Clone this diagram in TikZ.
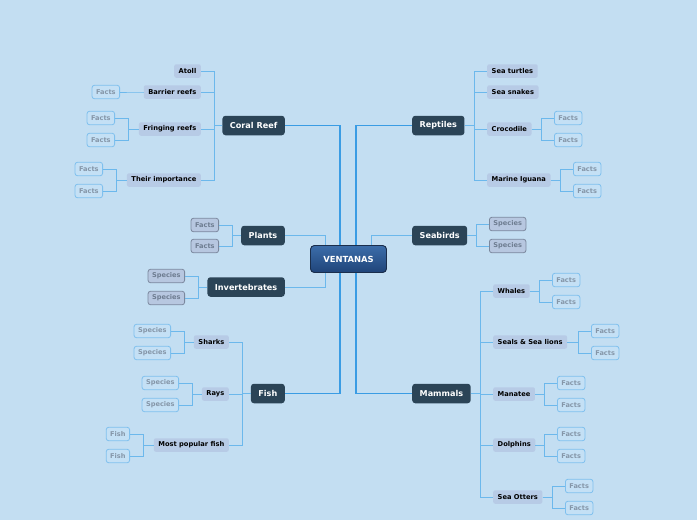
\documentclass[tikz,border=0pt]{standalone}
\usepackage{fontspec}
\setmainfont{DejaVu Sans}
\definecolor{bg}{HTML}{C3DEF2}
\definecolor{maindark}{HTML}{2B4457}
\definecolor{subfill}{HTML}{B7CBE6}
\definecolor{factfill}{HTML}{C4E0F5}
\definecolor{factborder}{HTML}{7FC0EE}
\definecolor{facttext}{HTML}{8596A8}
\definecolor{gfill}{HTML}{B7C7E0}
\definecolor{gborder}{HTML}{7B889E}
\definecolor{gtext}{HTML}{6E7D91}
\definecolor{linecol}{HTML}{6CB8EC}
\definecolor{mainline}{HTML}{3A9CE4}
\definecolor{roottop}{HTML}{3C6DAA}
\definecolor{rootbot}{HTML}{1F4479}
\definecolor{rootborder}{HTML}{1A2E4C}
\begin{document}
\begin{tikzpicture}[x=1pt,y=-1pt,
  root/.style={draw=rootborder, line width=0.8pt, rounded corners=4pt, top color=roottop, bottom color=rootbot, text=white, font=\fontsize{8.4}{10}\selectfont\bfseries, minimum height=27pt, minimum width=76pt, inner ysep=0pt},
  mainnode/.style={fill=maindark, rounded corners=3pt, text=white, font=\fontsize{8.1}{9}\selectfont\bfseries, minimum height=19.5pt, inner xsep=7.5pt, inner ysep=0pt},
  subnode/.style={fill=subfill, rounded corners=2pt, text=black, font=\fontsize{6.7}{7}\selectfont\bfseries, minimum height=13.5pt, inner xsep=4.5pt, inner ysep=0pt},
  fact/.style={draw=factborder, line width=0.8pt, fill=factfill, rounded corners=2.5pt, text=facttext, font=\fontsize{6.6}{7}\selectfont\bfseries, minimum height=13.5pt, inner xsep=4pt, inner ysep=0pt},
  gfact/.style={fact, draw=gborder, fill=gfill, text=gtext},
  conn/.style={draw=linecol, line width=0.8pt},
  mconn/.style={draw=mainline, line width=1.4pt}
]
\path[fill=bg, use as bounding box] (0,0) rectangle (697,520);

% central and main nodes
\node[root] (vent) at (348.5,259) {VENTANAS};
\node[mainnode, anchor=east] (cr) at (285,125.5) {Coral Reef};
\node[mainnode, anchor=east] (plants) at (285,235.5) {Plants};
\node[mainnode, anchor=east] (inv) at (285,287) {Invertebrates};
\node[mainnode, anchor=east] (fish) at (285,393.5) {Fish};
\node[mainnode, anchor=west] (rep) at (412,125.5) {Reptiles};
\node[mainnode, anchor=west] (sb) at (412,235.5) {Seabirds};
\node[mainnode, anchor=west] (mam) at (412,393.5) {Mammals};

% Coral Reef children
\node[subnode, anchor=east] (atoll) at (201,71) {Atoll};
\node[subnode, anchor=east] (barrier) at (201,92) {Barrier reefs};
\node[subnode, anchor=east] (fringing) at (201,129) {Fringing reefs};
\node[subnode, anchor=east] (importance) at (201,180) {Their importance};
\node[fact, anchor=east] (bf) at (120,92) {Facts};
\node[fact, anchor=east] (ff1) at (115,118) {Facts};
\node[fact, anchor=east] (ff2) at (115,140) {Facts};
\node[fact, anchor=east] (if1) at (103,169) {Facts};
\node[fact, anchor=east] (if2) at (103,191) {Facts};

% Plants and Invertebrates
\node[gfact, anchor=east] (pf1) at (219,225) {Facts};
\node[gfact, anchor=east] (pf2) at (219,246) {Facts};
\node[gfact, anchor=east] (is1) at (185,276) {Species};
\node[gfact, anchor=east] (is2) at (185,298) {Species};

% Fish children
\node[subnode, anchor=east] (sharks) at (229,342) {Sharks};
\node[subnode, anchor=east] (rays) at (229,394) {Rays};
\node[subnode, anchor=east] (mpf) at (229,445) {Most popular fish};
\node[fact, anchor=east] (ss1) at (171,331) {Species};
\node[fact, anchor=east] (ss2) at (171,353) {Species};
\node[fact, anchor=east] (rs1) at (179,383) {Species};
\node[fact, anchor=east] (rs2) at (179,405) {Species};
\node[fact, anchor=east] (mf1) at (130,434) {Fish};
\node[fact, anchor=east] (mf2) at (130,456) {Fish};

% Reptiles children
\node[subnode, anchor=west] (turtles) at (487,71) {Sea turtles};
\node[subnode, anchor=west] (snakes) at (487,92) {Sea snakes};
\node[subnode, anchor=west] (croc) at (487,129) {Crocodile};
\node[subnode, anchor=west] (iguana) at (487,180) {Marine Iguana};
\node[fact, anchor=west] (cf1) at (554,118) {Facts};
\node[fact, anchor=west] (cf2) at (554,140) {Facts};
\node[fact, anchor=west] (mi1) at (573,169) {Facts};
\node[fact, anchor=west] (mi2) at (573,191) {Facts};

% Seabirds
\node[gfact, anchor=west] (sbs1) at (489,224) {Species};
\node[gfact, anchor=west] (sbs2) at (489,246) {Species};

% Mammals children
\node[subnode, anchor=west] (whales) at (493,291) {Whales};
\node[subnode, anchor=west] (seals) at (493,342) {Seals \& Sea lions};
\node[subnode, anchor=west] (manatee) at (493,394) {Manatee};
\node[subnode, anchor=west] (dolphins) at (493,445) {Dolphins};
\node[subnode, anchor=west] (otters) at (493,497) {Sea Otters};
\node[fact, anchor=west] (wf1) at (552,280) {Facts};
\node[fact, anchor=west] (wf2) at (552,302) {Facts};
\node[fact, anchor=west] (sf1) at (591,331) {Facts};
\node[fact, anchor=west] (sf2) at (591,353) {Facts};
\node[fact, anchor=west] (maf1) at (557,383) {Facts};
\node[fact, anchor=west] (maf2) at (557,405) {Facts};
\node[fact, anchor=west] (df1) at (557,434) {Facts};
\node[fact, anchor=west] (df2) at (557,456) {Facts};
\node[fact, anchor=west] (of1) at (565,486) {Facts};
\node[fact, anchor=west] (of2) at (565,508) {Facts};

% ---------- connectors ----------
\foreach \p/\c in {cr/atoll, cr/barrier, cr/fringing, cr/importance,
                   barrier/bf, fringing/ff1, fringing/ff2, importance/if1, importance/if2,
                   plants/pf1, plants/pf2, inv/is1, inv/is2,
                   fish/sharks, fish/rays, fish/mpf,
                   sharks/ss1, sharks/ss2, rays/rs1, rays/rs2, mpf/mf1, mpf/mf2}
  \draw[conn] (\p.west) -| ([xshift=13pt]\c.east) -- (\c.east);
\foreach \p/\c in {rep/turtles, rep/snakes, rep/croc, rep/iguana,
                   croc/cf1, croc/cf2, iguana/mi1, iguana/mi2,
                   sb/sbs1, sb/sbs2,
                   mam/whales, mam/seals, mam/manatee, mam/dolphins, mam/otters,
                   whales/wf1, whales/wf2, seals/sf1, seals/sf2, manatee/maf1, manatee/maf2,
                   dolphins/df1, dolphins/df2, otters/of1, otters/of2}
  \draw[conn] (\p.east) -| ([xshift=-13pt]\c.west) -- (\c.west);

% main connectors from the centre
\draw[mconn] (cr.east) -| ([xshift=-8.5pt]vent.north);
\draw[mconn] (fish.east) -| ([xshift=-8.5pt]vent.south);
\draw[mconn] (rep.west) -| ([xshift=7.5pt]vent.north);
\draw[mconn] (mam.west) -| ([xshift=7.5pt]vent.south);
\draw[conn, line width=1pt] (plants.east) -| ([xshift=-23.5pt]vent.north);
\draw[conn, line width=1pt] (inv.east) -| ([xshift=-23.5pt]vent.south);
\draw[conn, line width=1pt] (sb.west) -| ([xshift=22.5pt]vent.north);

% redraw centre on top
\node[root] at (vent) {VENTANAS};
\end{tikzpicture}
\end{document}
